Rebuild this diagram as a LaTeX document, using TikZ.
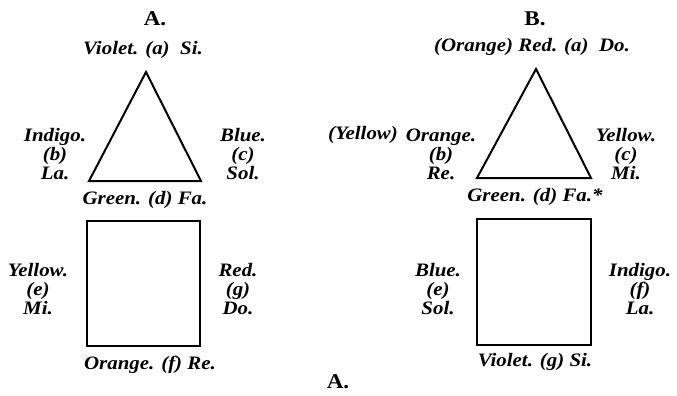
\documentclass[tikz,border=0pt]{standalone}
\usepackage{fontspec}
\setmainfont{Liberation Serif}
\newfontfamily\lblfont[FakeStretch=1.1]{Liberation Serif}
\begin{document}
\begin{tikzpicture}[x=1pt,y=-1pt,
  lbl/.style={font=\lblfont\fontsize{19}{19}\selectfont\bfseries\itshape, inner sep=0pt, align=center},
  ttl/.style={font=\lblfont\fontsize{21}{21}\selectfont\bfseries, inner sep=0pt},
  tri/.style={line width=2pt, line join=miter},
  sq/.style={line width=1.3pt}]
\useasboundingbox (0,0) rectangle (677,396);
% A
\node[ttl] (tA) at (155,19) {A.};
\node[lbl] (aA) at (143,50) {Violet. (a)\ \ Si.};
\coordinate (A1) at (146,72);
\coordinate (A2) at (89,181);
\coordinate (A3) at (201,181);
\draw[tri] (A1) -- (A2) -- (A3) -- cycle;
\node[lbl] (bA) at (55,154) {Indigo.\\(b)\\La.};
\node[lbl] (cA) at (243,154) {Blue.\\(c)\\Sol.};
\node[lbl] (dA) at (145,200) {Green. (d) Fa.};
\node[sq, draw, minimum width=113pt, minimum height=125pt, inner sep=0pt] (sA) at (143.5,283.5) {};
\node[lbl] (eA) at (38,289) {Yellow.\\(e)\\Mi.};
\node[lbl] (gA) at (238,289) {Red.\\(g)\\Do.};
\node[lbl] (fA) at (150,365) {Orange. (f)\ Re.};
\node[ttl] (tA2) at (338,382) {A.};
% B
\node[ttl] (tB) at (535,19) {B.};
\node[lbl] (aB) at (532,47) {(Orange) Red. (a)\ \ Do.};
\coordinate (B1) at (536,69);
\coordinate (B2) at (477,178);
\coordinate (B3) at (591,178);
\draw[tri] (B1) -- (B2) -- (B3) -- cycle;
\node[lbl] (yB) at (363,135) {(Yellow)};
\node[lbl] (bB) at (441,154) {Orange.\\(b)\\Re.};
\node[lbl] (cB) at (626,154) {Yellow.\\(c)\\Mi.};
\node[lbl] (dB) at (535,197) {Green. (d) Fa.*};
\node[sq, draw, minimum width=114pt, minimum height=126pt, inner sep=0pt] (sB) at (534,282) {};
\node[lbl] (eB) at (438,289) {Blue.\\(e)\\Sol.};
\node[lbl] (fB) at (640,289) {Indigo.\\(f)\\La.};
\node[lbl] (gB) at (535,362) {Violet. (g)\ Si.};
\end{tikzpicture}
\end{document}
